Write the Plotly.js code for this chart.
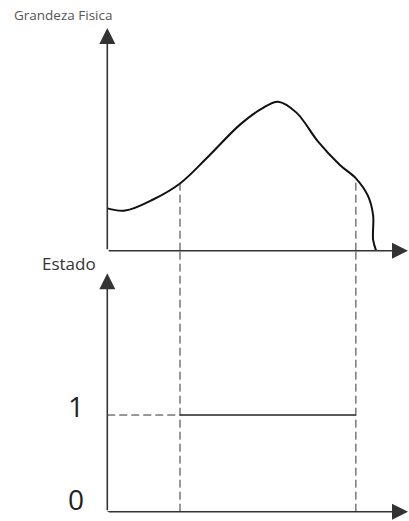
<!DOCTYPE html>
<html>
<head>
<meta charset="utf-8">
<script src="https://cdn.plot.ly/plotly-3.0.1.min.js"></script>
<style>
html, body { margin: 0; padding: 0; background: #fff; }
#chart { width: 409px; height: 521px; }
</style>
</head>
<body>
<div id="chart"></div>
<script>
//////////////////////////////////////////////
// Dados (tempo em unidades arbitrarias)

var tempo = [0, 0.59, 1.52, 2.41, 3.29, 4.39, 5.12, 5.66, 6.27, 6.98, 7.71, 8.24, 8.64, 8.81, 8.81, 8.91];
var grandeza = [1.90, 1.80, 2.30, 3.02, 4.15, 5.65, 6.38, 6.69, 6.20, 4.91, 3.85, 3.25, 2.46, 1.60, 0.50, 0];

// instantes em que o estado muda
var tLiga = 2.41;
var tDesliga = 8.24;
var tFim = 8.91;
var grandezaLiga = 3.02;
var grandezaDesliga = 3.25;

// estado logico
var estadoX = [0, tLiga, null, tLiga, tDesliga, null, tDesliga, tFim];
var estadoY = [0, 0, null, 1, 1, null, 0, 0];
var estadoNiveis = [1, 0];
var estadoTexto = ["1", "0"];

//////////////////////////////////////////////
// helpers pixel -> paper

var W = 409, H = 521;
function px(x) { return x / W; }
function py(y) { return 1 - y / H; }

var trace1 = {
    x: tempo,
    y: grandeza,
    type: "scatter",
    mode: "lines",
    line: { color: "#111", width: 2, shape: "spline", smoothing: 1 },
    xaxis: "x",
    yaxis: "y",
    hoverinfo: "skip"
};

var trace2 = {
    x: estadoX,
    y: estadoY,
    type: "scatter",
    mode: "lines",
    line: { color: "#222", width: 1.5 },
    xaxis: "x",
    yaxis: "y2",
    hoverinfo: "skip"
};

var dashed = { color: "#333", width: 1, dash: "8px,4px" };

var shapes = [
    { type: "line", xref: "x", yref: "y", x0: tLiga, x1: tLiga, y0: 0, y1: grandezaLiga, line: dashed },
    { type: "line", xref: "x", yref: "y", x0: tDesliga, x1: tDesliga, y0: 0, y1: grandezaDesliga, line: dashed },
    { type: "line", xref: "x", yref: "y2", x0: tLiga, x1: tLiga, y0: 0, y1: 2.7, line: dashed },
    { type: "line", xref: "x", yref: "y2", x0: tDesliga, x1: tDesliga, y0: 0, y1: 2.7, line: dashed },
    { type: "line", xref: "x", yref: "y2", x0: 0, x1: tLiga, y0: 1, y1: 1, line: dashed }
];

// eixos com seta
function seta(x, y, ax, ay) {
    return {
        xref: "paper", yref: "paper", x: x, y: y,
        axref: "pixel", ayref: "pixel", ax: ax, ay: ay,
        text: "", showarrow: true,
        arrowhead: 2, arrowsize: 2, arrowwidth: 1.6, arrowcolor: "#333"
    };
}

var annotations = [
    seta(px(107.3), py(28), 0, 222.7),
    seta(1.017, py(250.7), -308.7, 0),
    seta(px(107.3), py(273.3), 0, 238.4),
    seta(1.017, py(511.7), -308.7, 0),
    {
        xref: "paper", yref: "paper", x: px(62.8), y: py(15),
        xanchor: "center", yanchor: "middle",
        text: "Grandeza Fisica", showarrow: false,
        font: { family: "Open Sans", size: 13.5, color: "#555" }
    },
    {
        xref: "paper", yref: "paper", x: px(69), y: py(263),
        xanchor: "center", yanchor: "middle",
        text: "Estado", showarrow: false,
        font: { family: "Open Sans", size: 17, color: "#333" }
    }
];

estadoNiveis.forEach(function (n, i) {
    annotations.push({
        xref: "paper", yref: "y2", x: px(75.5), y: n, yshift: i === 0 ? 9 : 13,
        xanchor: "center", yanchor: "middle",
        text: estadoTexto[i], showarrow: false,
        font: { family: "Open Sans", size: 28, color: "#222" }
    });
});

var hidden = { visible: false, showgrid: false, zeroline: false, fixedrange: true };

var layout = {
    width: W,
    height: H,
    margin: { l: 0, r: 0, t: 0, b: 0 },
    paper_bgcolor: "#fff",
    plot_bgcolor: "rgba(0,0,0,0)",
    showlegend: false,
    xaxis: Object.assign({ domain: [px(107.3), 1], range: [0, 10] }, hidden),
    yaxis: Object.assign({ domain: [py(250.7), py(28)], range: [0, 10] }, hidden),
    yaxis2: Object.assign({ domain: [py(511.7), py(250.7)], range: [0, 2.7] }, hidden),
    shapes: shapes,
    annotations: annotations
};

Plotly.newPlot("chart", [trace1, trace2], layout, { staticPlot: true });
</script>
</body>
</html>
